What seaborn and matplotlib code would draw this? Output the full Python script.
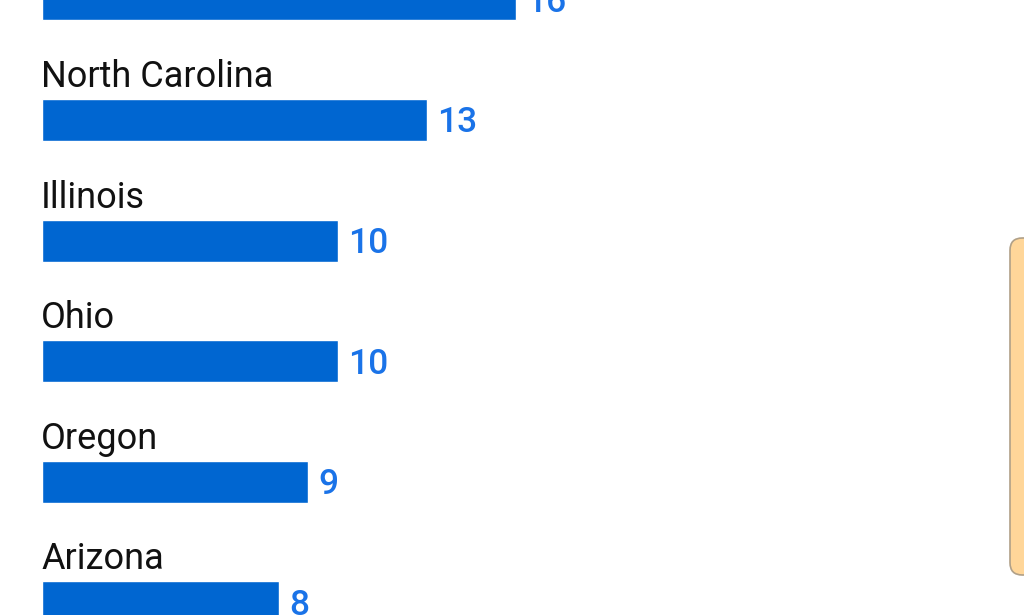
import matplotlib.pyplot as plt
import matplotlib.patches as mpatches
import seaborn as sns
import pandas as pd

# top row is cut off in the reference, its name is not visible
states = ["", "North Carolina", "Illinois", "Ohio", "Oregon", "Arizona"]
counts = [16, 13, 10, 10, 9, 8]

bar_color = "#0066d1"
value_color = "#1a73e8"
label_color = "#111111"

sns.set_theme(style="white")
plt.rcParams["font.family"] = ["Roboto", "DejaVu Sans"]

df = pd.DataFrame({"state": states, "count": counts})

fig = plt.figure(figsize=(10.24, 6.15), dpi=100)
ax = fig.add_axes([0, 0, 1, 1])

sns.barplot(data=df, x="count", y="state", order=states, orient="h",
            color=bar_color, width=0.348, saturation=1, ax=ax)

# pixel geometry: 120.6 px per row, 29.6 px per unit, bars start at x=42
row_px = 120.6
unit_px = 29.6
ax.set_xlim(-42 / unit_px, (1024 - 42) / unit_px)
ax.set_ylim((615 + 0.6) / row_px, 0.6 / row_px)

for i, (name, val) in enumerate(zip(states, counts)):
    if name:
        ax.text(-0.03, i - 0.174 - 12 / row_px, name, fontsize=26, color=label_color,
                ha="left", va="baseline")
    ax.text(val + 10 / unit_px, i + 12.5 / row_px, str(val), fontsize=25.5,
            fontweight="medium", color=value_color, ha="left", va="baseline")

ax.axis("off")

# scrollbar-like panel on the right edge
panel = mpatches.FancyBboxPatch((1010 / 1024, 1 - 575 / 615), 30 / 1024, 337 / 615,
                                boxstyle="round,pad=0,rounding_size=0.012",
                                transform=fig.transFigure, facecolor="#ffd699",
                                edgecolor="#b0a088", linewidth=1.2, mutation_aspect=1024 / 615)
fig.patches.append(panel)

fig.savefig("out.png", dpi=100)
